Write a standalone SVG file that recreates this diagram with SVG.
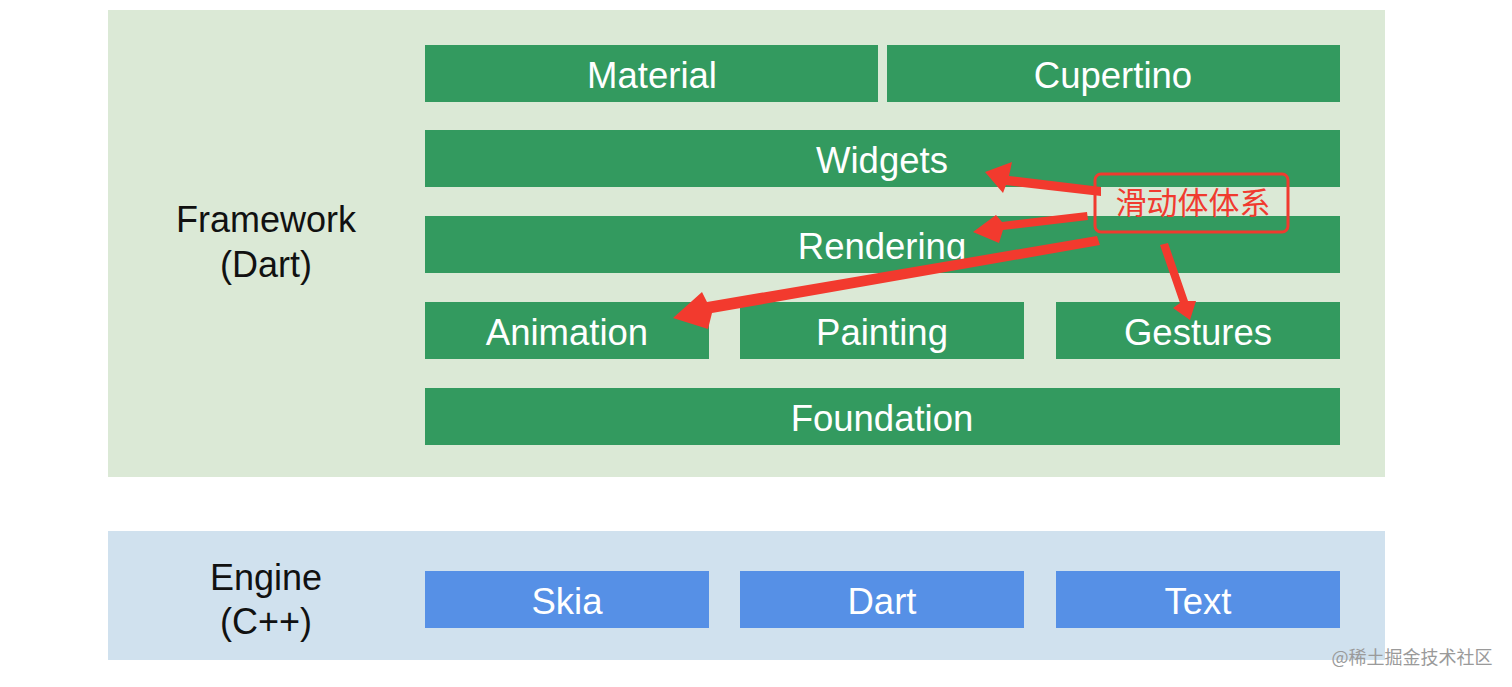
<svg xmlns="http://www.w3.org/2000/svg" width="1512" height="687" viewBox="0 0 1512 687">
<style>
.g{fill:#339a5f}
.b{fill:#5690e6}
.t{font-family:"Liberation Sans",Arial,sans-serif;font-size:36.5px;fill:#ffffff;text-anchor:middle}
.l{font-family:"Liberation Sans",Arial,sans-serif;font-size:36px;fill:#111111;text-anchor:middle}
.ar{fill:#f23a2e}
</style>
<rect width="1512" height="687" fill="#ffffff"/>
<g id="framework">
<rect x="108" y="10" width="1277" height="467" fill="#dbe9d6"/>
<text class="l" x="266" y="232">Framework</text>
<text class="l" x="266" y="277">(Dart)</text>
</g>
<g id="engine">
<rect x="108" y="531" width="1277" height="129" fill="#d0e1ee"/>
<text class="l" x="266" y="590">Engine</text>
<text class="l" x="266" y="634">(C++)</text>
</g>
<g id="material"><rect class="g" x="425" y="45" width="453" height="57"/><text class="t" x="652" y="88">Material</text></g>
<g id="cupertino"><rect class="g" x="887" y="45" width="453" height="57"/><text class="t" x="1113" y="88">Cupertino</text></g>
<g id="widgets"><rect class="g" x="425" y="130" width="915" height="57"/><text class="t" x="882" y="173">Widgets</text></g>
<g id="rendering"><rect class="g" x="425" y="216" width="915" height="57"/><text class="t" x="882" y="259">Rendering</text></g>
<g id="animation"><rect class="g" x="425" y="302" width="284" height="57"/><text class="t" x="567" y="345">Animation</text></g>
<g id="painting"><rect class="g" x="740" y="302" width="284" height="57"/><text class="t" x="882" y="345">Painting</text></g>
<g id="gestures"><rect class="g" x="1056" y="302" width="284" height="57"/><text class="t" x="1198" y="345">Gestures</text></g>
<g id="foundation"><rect class="g" x="425" y="388" width="915" height="57"/><text class="t" x="882" y="431">Foundation</text></g>
<g id="skia"><rect class="b" x="425" y="571" width="284" height="57"/><text class="t" x="567" y="614">Skia</text></g>
<g id="dart"><rect class="b" x="740" y="571" width="284" height="57"/><text class="t" x="882" y="614">Dart</text></g>
<g id="text"><rect class="b" x="1056" y="571" width="284" height="57"/><text class="t" x="1198" y="614">Text</text></g>
<g id="scroll">
<rect x="1095" y="174" width="193" height="58" rx="6" fill="none" stroke="#f03a2f" stroke-width="3"/>
<text x="1193" y="214" font-family="'Noto Sans CJK SC',sans-serif" font-size="31" fill="#f03a2f" text-anchor="middle">滑动体体系</text>
</g>
<g id="connectors" class="ar">
<polygon points="1101,187 1009,176 1012,162 985,172 1003,193 1006,185 1101,196"/>
<polygon points="1087,212 1002,222 996,215 973,232 999,243 1003,230 1088,220"/>
<polygon points="1097,236 707,302 702,292 673,318 708,329 712,313 1100,245"/>
<polygon points="1160,245 1180,303 1173,308 1190,320 1196,301 1188,301 1168,243"/>
</g>
<text x="1412" y="664" font-family="'Noto Sans CJK SC',sans-serif" font-size="18" fill="#9a9a9a" text-anchor="middle">@稀土掘金技术社区</text>
</svg>
